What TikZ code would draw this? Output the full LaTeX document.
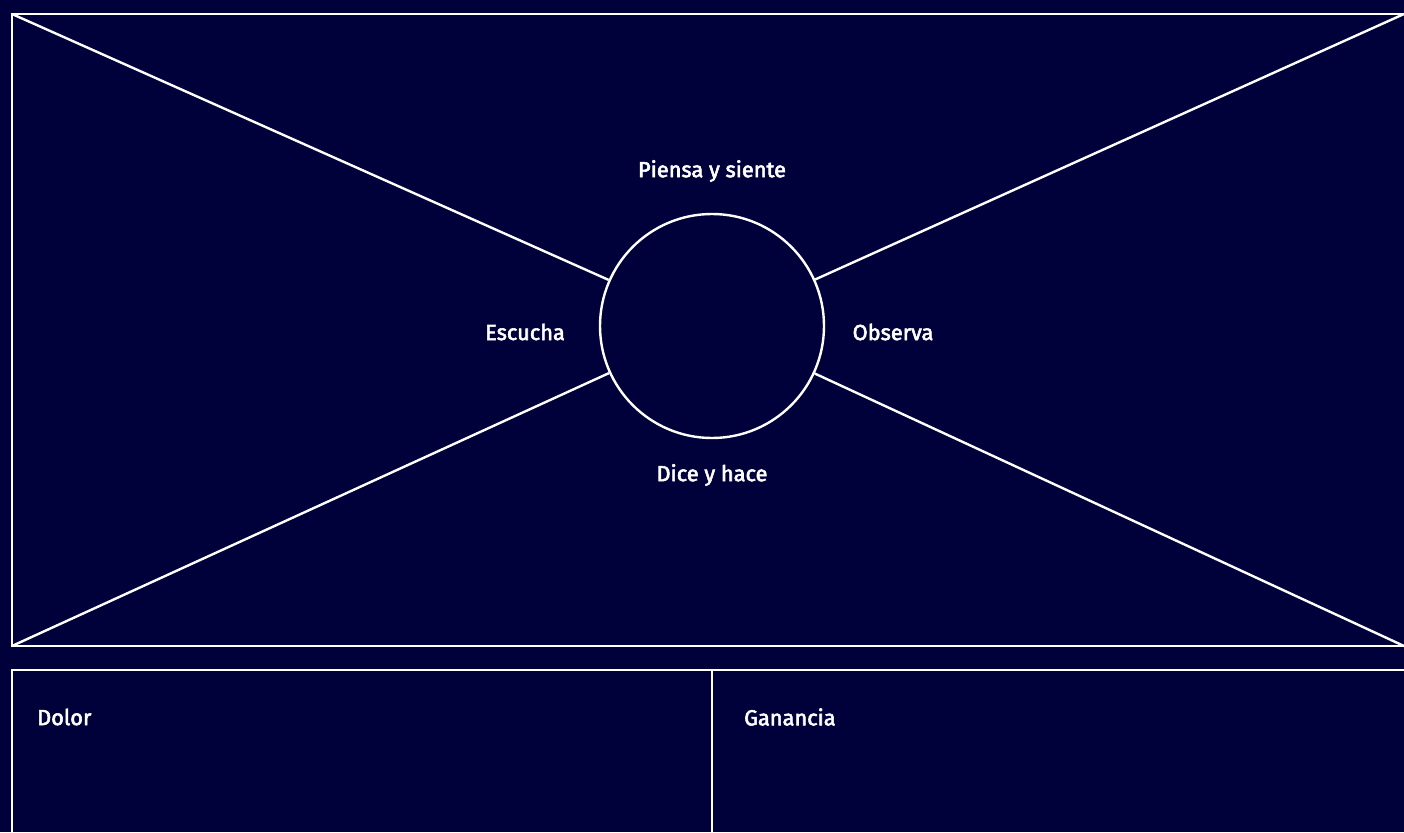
\documentclass[tikz,border=0pt]{standalone}
\usepackage{fontspec}
\setmainfont{Fira Sans}[FakeBold=2.6]
\usepackage{xcolor}
\usetikzlibrary{positioning}
\definecolor{navy}{RGB}{0,0,58}

\begin{document}
\begin{tikzpicture}[
    x=1pt, y=-1pt,
    frame/.style={draw=white, line width=2.4pt},
    ray/.style={draw=white, line width=2.4pt},
    hub/.style={circle, draw=white, line width=2.4pt, minimum size=224pt, inner sep=0pt},
    tag/.style={font=\fontsize{21.8}{26}\selectfont, text=white, inner sep=0pt},
    corner/.style={font=\fontsize{21.8}{26}\selectfont, text=white, inner sep=0pt, anchor=west},
]
\fill[navy] (0,0) rectangle (1404,832);
\useasboundingbox (0,0) rectangle (1404,832);
% empathy map
\draw[frame] (12,14) rectangle (1406,646);
\node[hub] (hub) at (712,326) {};
\coordinate (tl) at (12,14);
\coordinate (tr) at (1404,14);
\coordinate (bl) at (12,646);
\coordinate (br) at (1404,646);
\draw[ray] (tl) -- (hub);
\draw[ray] (tr) -- (hub);
\draw[ray] (bl) -- (hub);
\draw[ray] (br) -- (hub);
\node[tag] (thinks) at (712,171) {Piensa y siente};
\node[tag] (hears) at (525,332) {Escucha};
\node[tag] (sees) at (893,332) {Observa};
\node[tag] (says) at (712,475) {Dice y hace};
% pains and gains
\draw[frame] (12,670) rectangle (1406,840);
\draw[frame] (712,670) -- (712,840);
\node[corner] (pain) at (37,717) {Dolor};
\node[corner] (gain) at (744,717) {Ganancia};
\end{tikzpicture}
\end{document}
